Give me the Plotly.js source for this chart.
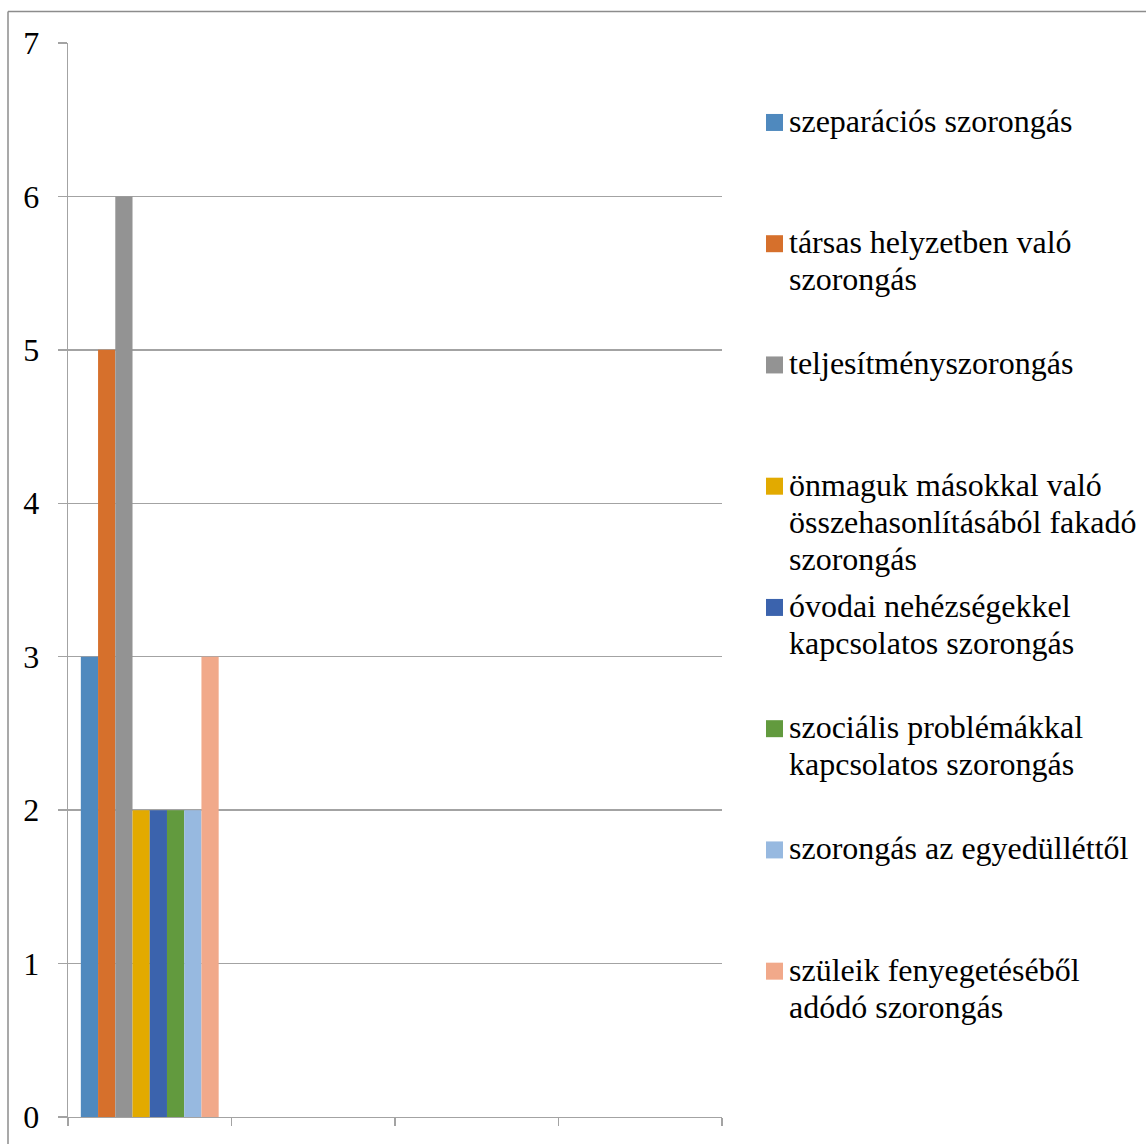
<!DOCTYPE html>
<html>
<head>
<meta charset="utf-8">
<script src="https://cdn.plot.ly/plotly-3.0.1.min.js"></script>
<style>
  html, body { margin: 0; padding: 0; background: #fff; }
  #chart { width: 1146px; height: 1144px; }
</style>
</head>
<body>
<div id="chart"></div>
<script>
// Category slots along the x axis (only the first one holds data)
const categories = ["1", "2", "3", "4"];

// Series names, one entry per legend line
const seriesNames = [
  ["szeparációs szorongás"],
  ["társas helyzetben való", "szorongás"],
  ["teljesítményszorongás"],
  ["önmaguk másokkal való", "összehasonlításából fakadó", "szorongás"],
  ["óvodai nehézségekkel", "kapcsolatos szorongás"],
  ["szociális problémákkal", "kapcsolatos szorongás"],
  ["szorongás az egyedülléttől"],
  ["szüleik fenyegetéséből", "adódó szorongás"]
];

// One value per series, in the first category
const seriesValues = [3, 5, 6, 2, 2, 2, 2, 3];

const seriesColors = [
  "#4F89BE", "#D6702C", "#939393", "#E2AA00",
  "#3B63AD", "#629A3E", "#97B9E0", "#F1A98A"
];

const yTicks = [0, 1, 2, 3, 4, 5, 6, 7];

// Plot-area geometry in pixels
const W = 1146, H = 1144;
const L = 68, R = 722, T = 42.5, B = 1117;
const px = x => (x - L) / (R - L);
const py = y => (B - y) / (B - T);

const FONT = "Liberation Serif";
const FONT_SIZE = 32;
const LINE = 37;
const GRID = "#A3A3A3";

const traces = seriesNames.map((lines, i) => ({
  type: "bar",
  name: lines.join(" "),
  x: [categories[0]],
  y: [seriesValues[i]],
  marker: { color: seriesColors[i], line: { width: 0 } },
  hoverinfo: "name+y",
  showlegend: false
}));

// Legend: swatch + text lines per series, equal vertical slots
const legendTop = 122, legendStep = 121.3;
const shapes = [];
const annotations = [];
seriesNames.forEach((lines, i) => {
  const cy = legendTop + i * legendStep;
  shapes.push({
    type: "rect", xref: "paper", yref: "paper",
    x0: px(766), x1: px(783), y0: py(cy + 8.5), y1: py(cy - 8.5),
    fillcolor: seriesColors[i], line: { width: 0 }
  });
  lines.forEach((t, k) => {
    annotations.push({
      xref: "paper", yref: "paper",
      x: px(787), y: py(cy - 1.5 + k * LINE),
      xanchor: "left", yanchor: "middle", align: "left",
      showarrow: false, text: t,
      font: { family: FONT, size: FONT_SIZE, color: "#000" }
    });
  });
});

// Outer frame (top and left edges)
shapes.push({
  type: "line", xref: "paper", yref: "paper",
  x0: px(8), x1: px(W + 5), y0: py(11), y1: py(11),
  line: { color: "#8C8C8C", width: 1.5 }
});
shapes.push({
  type: "line", xref: "paper", yref: "paper",
  x0: px(8), x1: px(8), y0: py(11), y1: py(H + 5),
  line: { color: "#8C8C8C", width: 1.5 }
});

const layout = {
  width: W, height: H,
  margin: { l: L, r: W - R, t: T, b: H - B, pad: 0 },
  paper_bgcolor: "#fff", plot_bgcolor: "#fff",
  barmode: "group",
  bargap: 0.157,
  bargroupgap: 0,
  showlegend: false,
  font: { family: FONT, color: "#000" },
  xaxis: {
    type: "category",
    categoryorder: "array",
    categoryarray: categories,
    range: [-0.5, categories.length - 0.5],
    tickson: "boundaries",
    ticks: "outside", ticklen: 8, tickwidth: 1.3, tickcolor: GRID,
    showticklabels: false,
    showline: true, linecolor: GRID, linewidth: 1.3,
    showgrid: false, zeroline: false, fixedrange: true
  },
  yaxis: {
    range: [0, 7],
    tickvals: yTicks,
    ticktext: yTicks.map(String),
    ticks: "outside", ticklen: 9, tickwidth: 1.3, tickcolor: GRID,
    ticklabelstandoff: 12,
    tickfont: { family: FONT, size: FONT_SIZE, color: "#000" },
    showline: true, linecolor: GRID, linewidth: 1.3,
    showgrid: true, gridcolor: GRID, gridwidth: 1.3,
    zeroline: false, fixedrange: true
  },
  shapes: shapes,
  annotations: annotations
};

Plotly.newPlot("chart", traces, layout, { displayModeBar: false, staticPlot: true });
</script>
</body>
</html>
